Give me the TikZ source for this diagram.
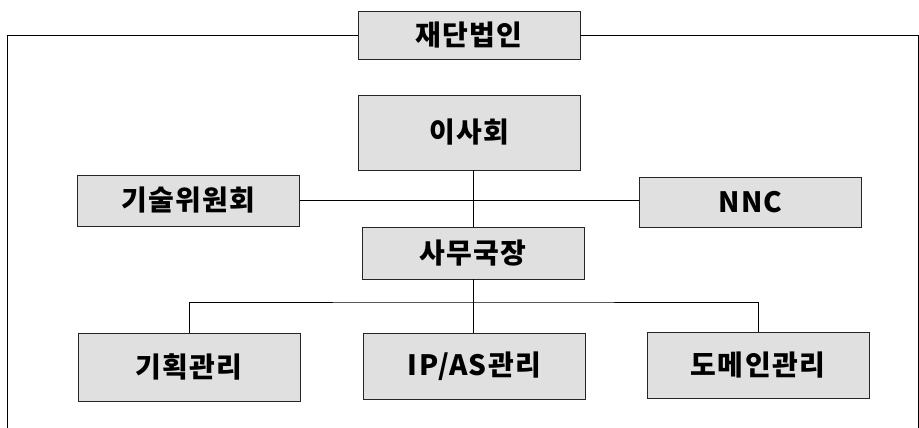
\documentclass[tikz,border=0pt]{standalone}
\usepackage{fontspec}
\setmainfont{Noto Sans CJK KR}[LetterSpace=5]
\usetikzlibrary{positioning}

\begin{document}
\begin{tikzpicture}[x=1pt,y=-1pt]
	\tikzstyle{every node}=[inner sep=0pt, font=\fontsize{28}{32}\selectfont\bfseries]
	\tikzstyle{unit}=[draw=black!85, line width=0.8pt, fill=black!12, minimum width=222pt]
	\useasboundingbox (0,0) rectangle (919,428);
	\draw (469,35) node (jaedan) [unit, minimum height=48pt] {재단법인};
	\draw (469.5,132.5) node (isa) [unit, minimum height=75pt] {이사회};
	\draw (188.5,200.5) node (gisul) [unit, minimum height=51pt] {기술위원회};
	\draw (750.5,202) node (nnc) [unit, minimum height=50pt] {NNC};
	\draw (473,253) node (samu) [unit, minimum height=52pt] {사무국장};
	\draw (189,367) node (gihoek) [unit, minimum height=68pt] {기획관리};
	\draw (474.5,366) node (ipas) [unit, minimum height=66pt] {IP/AS관리};
	\draw (758,365) node (domain) [unit, minimum height=66pt] {도메인관리};
	\coordinate (fl) at (7,428);
	\coordinate (fr) at (918,428);
	\coordinate (branch) at (473,302);
	% outer frame
	\draw (jaedan.west) -| (fl);
	\draw (jaedan.east) -| (fr);
	% links
	\draw (gisul.east) -- (nnc.west |- gisul.east);
	\draw (samu.north) -- (samu.north |- isa.south);
	\draw (samu.south) -- (samu.south |- ipas.north);
	\draw (gihoek.north) |- (branch) -| (domain.north);
\end{tikzpicture}
\end{document}
